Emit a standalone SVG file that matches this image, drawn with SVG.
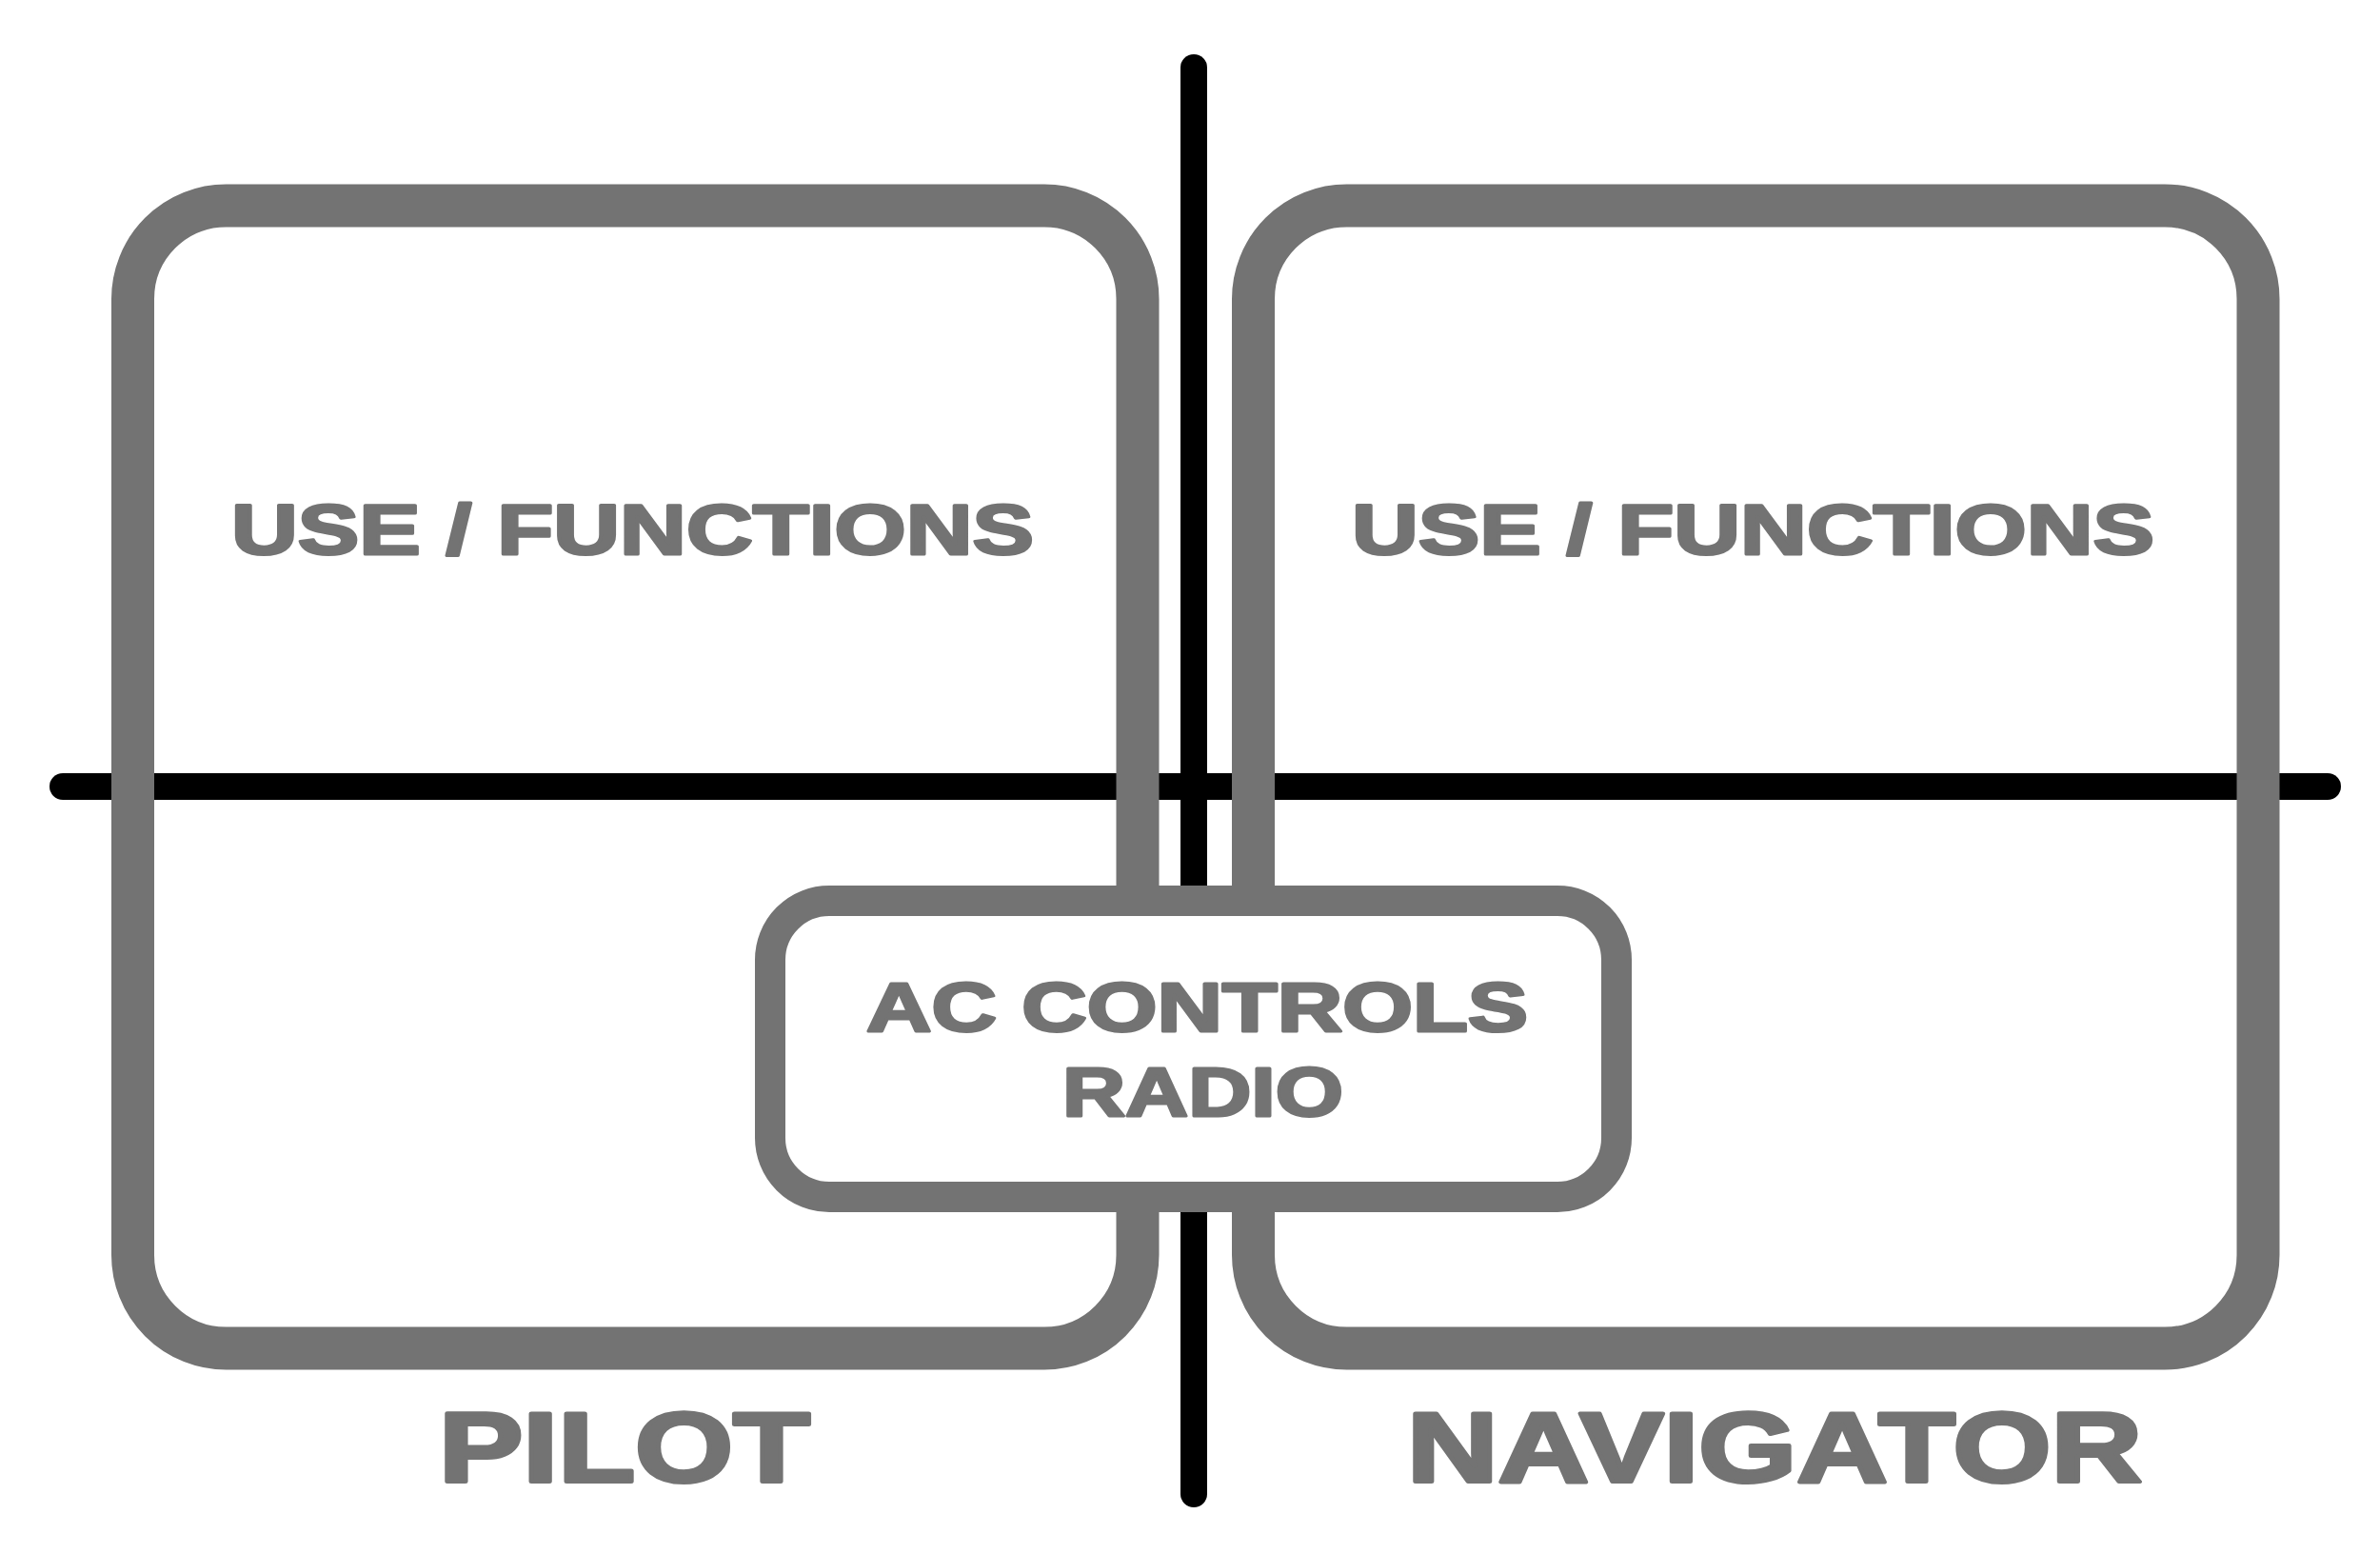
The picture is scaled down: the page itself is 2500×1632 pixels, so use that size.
<svg xmlns="http://www.w3.org/2000/svg" width="2500" height="1632" viewBox="0 0 2500 1632">
<style>
.ln{stroke:#000;stroke-width:28;stroke-linecap:round;fill:none}
.box{stroke:#737373;stroke-width:45;fill:none}
.cbox{stroke:#737373;stroke-width:32;fill:#fff}
.t{font-family:"Liberation Sans",Arial,sans-serif;font-weight:bold;fill:#737373;stroke:#737373;stroke-width:3;stroke-linejoin:round}
.big{stroke-width:4}
</style>
<rect width="2500" height="1632" fill="#fff"/>
<g id="connectors">
<line class="ln" x1="1254" y1="71" x2="1254" y2="1569"/>
<line class="ln" x1="66" y1="826" x2="2445" y2="826"/>
</g>
<g id="pilot">
<rect class="box" x="139.5" y="216" width="1055.5" height="1200" rx="98"/>
<text class="t" x="243" y="582" font-size="74" textLength="843" lengthAdjust="spacingAndGlyphs">USE / FUNCTIONS</text>
<text class="t big" x="461" y="1556" font-size="103" textLength="390" lengthAdjust="spacingAndGlyphs">PILOT</text>
</g>
<g id="navigator">
<rect class="box" x="1316.5" y="216" width="1055.5" height="1200" rx="98"/>
<text class="t" x="1420" y="582" font-size="74" textLength="843" lengthAdjust="spacingAndGlyphs">USE / FUNCTIONS</text>
<text class="t big" x="1478" y="1556" font-size="103" textLength="772" lengthAdjust="spacingAndGlyphs">NAVIGATOR</text>
</g>
<g id="ac-controls">
<rect class="cbox" x="809" y="946" width="889" height="311" rx="62"/>
<text class="t" x="910" y="1083" font-size="72" textLength="695" lengthAdjust="spacingAndGlyphs">AC CONTROLS</text>
<text class="t" x="1116" y="1172" font-size="72" textLength="295" lengthAdjust="spacingAndGlyphs">RADIO</text>
</g>
</svg>
